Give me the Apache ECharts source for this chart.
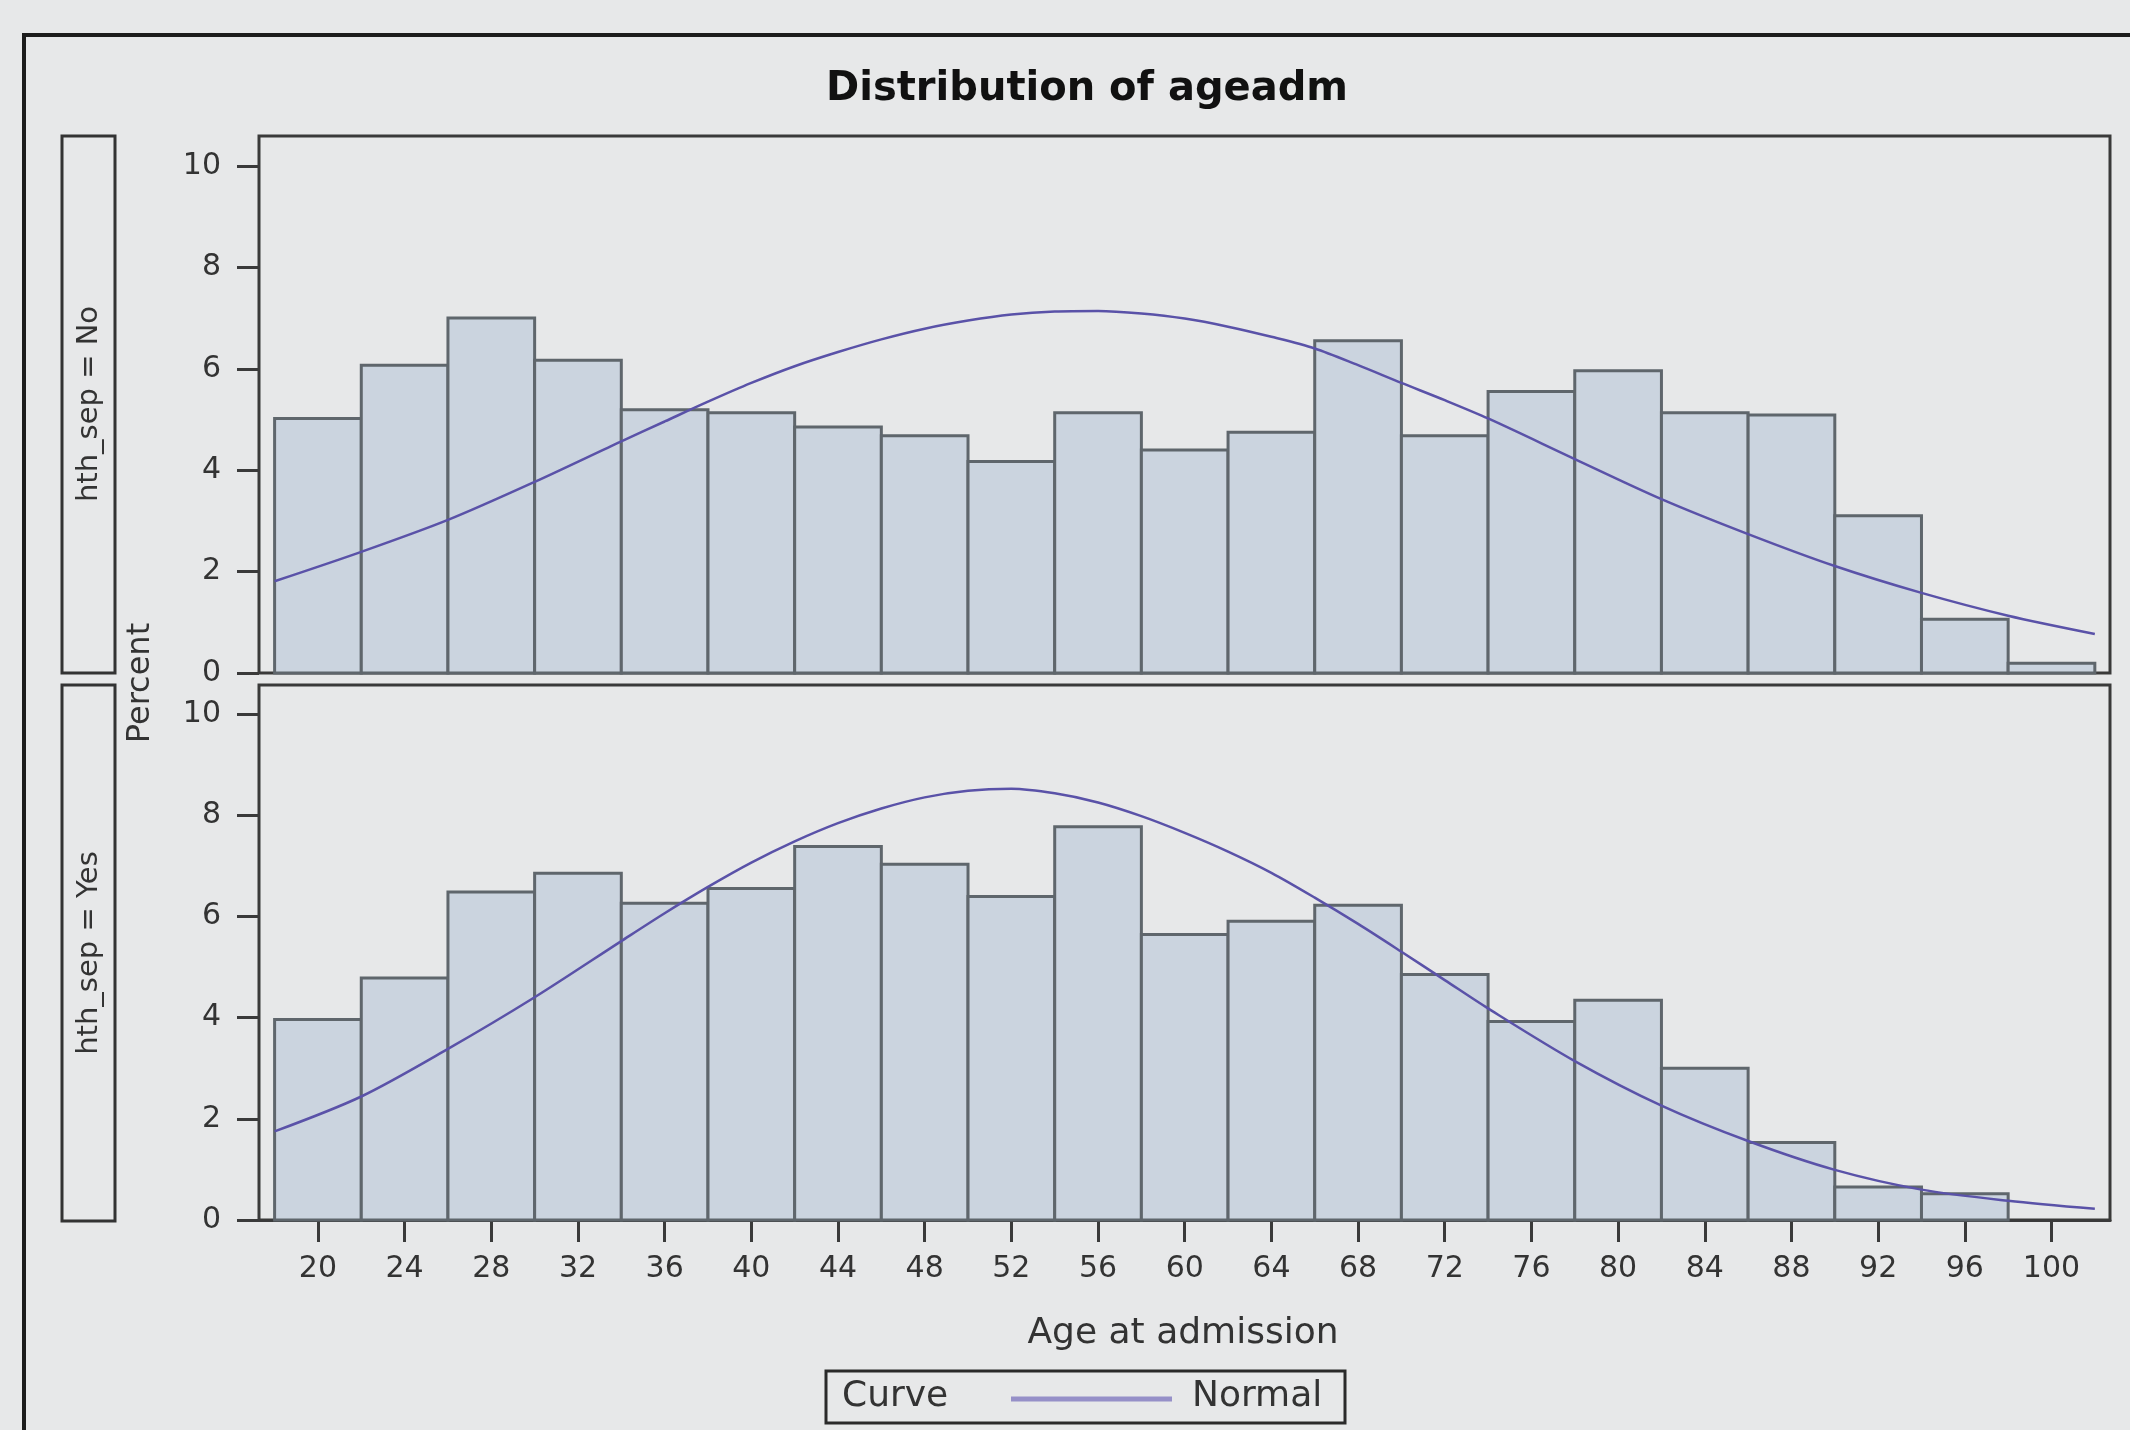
<!DOCTYPE html>
<html><head><meta charset="utf-8">
<script src="https://cdn.jsdelivr.net/npm/echarts@6/dist/echarts.min.js"></script>
<style>html,body{margin:0;padding:0;background:#e7e8e9;} #c{width:2130px;height:1430px;}</style>
</head><body><div id="c"></div>
<script>
// ---------- data ----------
const chartTitle = 'Distribution of ageadm';
const panelLabels = ['hth_sep = No', 'hth_sep = Yes'];
const xAxisTitle = 'Age at admission';
const yAxisTitle = 'Percent';
const legendTitle = 'Curve';
const legendItem = 'Normal';

// histogram bin midpoints (bin width 4)
const binMidNo  = [20,24,28,32,36,40,44,48,52,56,60,64,68,72,76,80,84,88,92,96,100];
const pctNo     = [5.02,6.07,7.00,6.17,5.19,5.13,4.85,4.68,4.17,5.13,4.40,4.75,6.55,4.68,5.55,5.96,5.13,5.09,3.10,1.06,0.19];
const binMidYes = [20,24,28,32,36,40,44,48,52,56,60,64,68,72,76,80,84,88,92,96];
const pctYes    = [3.96,4.78,6.48,6.85,6.26,6.55,7.38,7.03,6.39,7.77,5.64,5.90,6.22,4.85,3.92,4.34,3.00,1.53,0.65,0.52];

// normal curves, read at points along the age axis
const curveAgeNo = [18,22,26,30,34,36,38,40,42,44,46,48,50,52,54,56,58,60,62,64,66,68,70,72,74,78,82,86,90,94,98,102];
const normalNo   = [1.81,2.39,3.02,3.77,4.57,4.96,5.35,5.72,6.05,6.33,6.58,6.79,6.95,7.07,7.13,7.14,7.09,6.99,6.83,6.63,6.40,6.07,5.72,5.38,5.02,4.22,3.43,2.74,2.11,1.58,1.13,0.77];
const curveAgeYes = [18,22,26,30,34,36,38,40,42,44,46,48,50,52,54,56,58,60,62,64,66,68,70,72,74,78,82,86,90,94,98,102];
const normalYes   = [1.75,2.44,3.38,4.40,5.51,6.06,6.58,7.06,7.48,7.84,8.13,8.35,8.48,8.52,8.43,8.25,7.98,7.65,7.28,6.86,6.37,5.85,5.30,4.74,4.18,3.14,2.26,1.56,0.99,0.60,0.38,0.22];

const xTicks = [20,24,28,32,36,40,44,48,52,56,60,64,68,72,76,80,84,88,92,96,100];
const yTicks = [0,2,4,6,8,10];
const binWidth = 4;

// ---------- chart ----------
const FONT = 'DejaVu Sans';
const chart = echarts.init(document.getElementById('c'), null, {renderer: 'canvas'});

function barSeries(idx, mids, vals) {
  return {
    type: 'custom', xAxisIndex: idx, yAxisIndex: idx, z: 2,
    data: mids.map((m, i) => [m, vals[i]]),
    encode: {x: 0, y: 1},
    renderItem: function (params, api) {
      const m = api.value(0), v = api.value(1);
      const p0 = api.coord([m - binWidth / 2, v]);
      const p1 = api.coord([m + binWidth / 2, 0]);
      return {
        type: 'rect',
        shape: {x: p0[0], y: p0[1], width: p1[0] - p0[0], height: p1[1] - p0[1]},
        style: {fill: '#cbd4df', stroke: '#5f666c', lineWidth: 3}
      };
    }
  };
}
function curveSeries(idx, ages, vals) {
  return {
    type: 'line', xAxisIndex: idx, yAxisIndex: idx, z: 5,
    data: ages.map((a, i) => [a, vals[i]]),
    smooth: 0.3, showSymbol: false, symbol: 'none',
    lineStyle: {color: '#5a52a8', width: 2.5}
  };
}
function yAxis(idx, max) {
  return {
    type: 'value', gridIndex: idx, min: 0, max: max,
    axisLine: {show: false},
    axisTick: {show: true, customValues: yTicks, length: 22, lineStyle: {color: '#3a3a3a', width: 3}},
    axisLabel: {show: true, customValues: yTicks, margin: 38, fontSize: 30, color: '#333', fontFamily: FONT},
    splitLine: {show: false}
  };
}
const gridStyle = {show: true, borderColor: '#3a3a3a', borderWidth: 3, backgroundColor: 'transparent'};

const option = {
  animation: false,
  backgroundColor: '#e7e8e9',
  textStyle: {fontFamily: FONT},
  grid: [
    Object.assign({left: 259, top: 136, width: 1851, height: 537}, gridStyle),
    Object.assign({left: 259, top: 685, width: 1851, height: 535}, gridStyle)
  ],
  xAxis: [
    {type: 'value', gridIndex: 0, min: 17.28, max: 102.7,
     axisLine: {show: false}, axisTick: {show: false}, axisLabel: {show: false}, splitLine: {show: false}},
    {type: 'value', gridIndex: 1, min: 17.28, max: 102.7,
     axisLine: {show: true, lineStyle: {color: '#3a3a3a', width: 3}},
     axisTick: {show: true, customValues: xTicks, length: 22, lineStyle: {color: '#3a3a3a', width: 3}},
     axisLabel: {show: true, customValues: xTicks, margin: 34, fontSize: 30, color: '#333', fontFamily: FONT},
     splitLine: {show: false}}
  ],
  yAxis: [yAxis(0, 10.59), yAxis(1, 10.57)],
  series: [
    barSeries(0, binMidNo, pctNo),
    curveSeries(0, curveAgeNo, normalNo),
    barSeries(1, binMidYes, pctYes),
    curveSeries(1, curveAgeYes, normalYes)
  ],
  graphic: [
    {type: 'rect', shape: {x: 24, y: 35, width: 2200, height: 1500}, style: {fill: 'none', stroke: '#1c1c1c', lineWidth: 4}, silent: true},
    {type: 'text', x: 1087, y: 90, style: {text: chartTitle, font: 'bold 40px "DejaVu Sans"', fill: '#111', textAlign: 'center', textVerticalAlign: 'middle'}},
    {type: 'rect', shape: {x: 62, y: 136, width: 53, height: 537}, style: {fill: 'none', stroke: '#333', lineWidth: 3}},
    {type: 'rect', shape: {x: 62, y: 685, width: 53, height: 536}, style: {fill: 'none', stroke: '#333', lineWidth: 3}},
    {type: 'text', x: 89, y: 404, rotation: Math.PI / 2, style: {text: panelLabels[0], font: '29px "DejaVu Sans"', fill: '#333', textAlign: 'center', textVerticalAlign: 'middle'}},
    {type: 'text', x: 89, y: 953, rotation: Math.PI / 2, style: {text: panelLabels[1], font: '29px "DejaVu Sans"', fill: '#333', textAlign: 'center', textVerticalAlign: 'middle'}},
    {type: 'text', x: 141, y: 683, rotation: Math.PI / 2, style: {text: yAxisTitle, font: '32px "DejaVu Sans"', fill: '#333', textAlign: 'center', textVerticalAlign: 'middle'}},
    {type: 'text', x: 1183, y: 1334, style: {text: xAxisTitle, font: '36px "DejaVu Sans"', fill: '#333', textAlign: 'center', textVerticalAlign: 'middle'}},
    {type: 'rect', shape: {x: 826, y: 1371, width: 519, height: 52}, style: {fill: 'none', stroke: '#2a2a2a', lineWidth: 3}},
    {type: 'text', x: 842, y: 1397, style: {text: legendTitle, font: '36px "DejaVu Sans"', fill: '#333', textAlign: 'left', textVerticalAlign: 'middle'}},
    {type: 'line', shape: {x1: 1011, y1: 1399, x2: 1172, y2: 1399}, style: {stroke: '#9690c8', lineWidth: 5}},
    {type: 'text', x: 1192, y: 1397, style: {text: legendItem, font: '36px "DejaVu Sans"', fill: '#333', textAlign: 'left', textVerticalAlign: 'middle'}}
  ]
};
chart.setOption(option);
</script>
</body></html>
